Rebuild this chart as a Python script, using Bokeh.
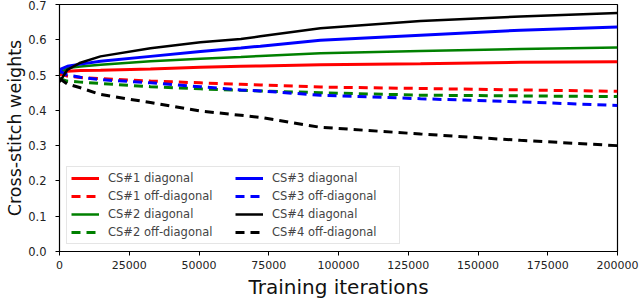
from bokeh.plotting import figure
from bokeh.embed import file_html
from bokeh.resources import INLINE
from bokeh.models import FixedTicker, NumeralTickFormatter, Legend, LegendItem, Range1d

x = [0, 2800, 7500, 14700, 32600, 50500, 65000, 72000, 93500, 129400, 165200, 200000]

cs1_diag = [0.500, 0.511, 0.513, 0.514, 0.517, 0.522, 0.525, 0.526, 0.529, 0.532, 0.536, 0.538]
cs1_off = [0.505, 0.497, 0.493, 0.490, 0.483, 0.478, 0.474, 0.472, 0.466, 0.462, 0.458, 0.454]
cs2_diag = [0.505, 0.520, 0.524, 0.529, 0.539, 0.546, 0.551, 0.554, 0.562, 0.568, 0.574, 0.578]
cs2_off = [0.490, 0.483, 0.480, 0.476, 0.467, 0.461, 0.457, 0.455, 0.450, 0.443, 0.441, 0.439]
cs3_diag = [0.515, 0.525, 0.531, 0.539, 0.553, 0.567, 0.577, 0.582, 0.599, 0.613, 0.627, 0.636]
cs3_off = [0.512, 0.500, 0.494, 0.487, 0.478, 0.467, 0.458, 0.455, 0.443, 0.433, 0.424, 0.414]
cs4_diag = [0.480, 0.515, 0.535, 0.553, 0.576, 0.593, 0.602, 0.610, 0.633, 0.653, 0.666, 0.676]
cs4_off = [0.490, 0.475, 0.464, 0.445, 0.422, 0.398, 0.386, 0.380, 0.352, 0.333, 0.315, 0.300]

x_ticks = [0, 25000, 50000, 75000, 100000, 125000, 150000, 175000, 200000]
y_ticks = [0.0, 0.1, 0.2, 0.3, 0.4, 0.5, 0.6, 0.7]

series = [
    ("CS#1 diagonal", cs1_diag, "#ff0000", "solid", 3),
    ("CS#1 off-diagonal", cs1_off, "#ff0000", "9 6", 3),
    ("CS#2 diagonal", cs2_diag, "#008000", "solid", 2.5),
    ("CS#2 off-diagonal", cs2_off, "#008000", "9 6", 3),
    ("CS#3 diagonal", cs3_diag, "#0000ff", "solid", 3),
    ("CS#3 off-diagonal", cs3_off, "#0000ff", "9 6", 3),
    ("CS#4 diagonal", cs4_diag, "#000000", "solid", 2.5),
    ("CS#4 off-diagonal", cs4_off, "#000000", "9 6", 3),
]

p = figure(width=640, height=301, output_backend="svg", toolbar_location=None,
           x_range=Range1d(0, 200000), y_range=Range1d(0.0, 0.7),
           min_border_left=59, min_border_right=23, min_border_top=4, min_border_bottom=47,
           margin=(0, 0, 0, 0))

items = []
for name, ys, col, dash, w in series:
    r = p.line(x, ys, line_color=col, line_dash=dash, line_width=w)
    items.append(LegendItem(label=name, renderers=[r]))

p.xgrid.visible = False
p.ygrid.visible = False
p.outline_line_color = "black"
p.outline_line_width = 1.2

p.xaxis.ticker = FixedTicker(ticks=x_ticks)
p.yaxis.ticker = FixedTicker(ticks=y_ticks)
p.xaxis.formatter = NumeralTickFormatter(format="0")
p.yaxis.formatter = NumeralTickFormatter(format="0.0")
for ax in (p.xaxis[0], p.yaxis[0]):
    ax.major_label_text_font = "DejaVu Sans"
    ax.major_label_text_font_size = "11px"
    ax.major_label_text_color = "#222222"
    ax.axis_label_text_font = "DejaVu Sans"
    ax.axis_label_text_font_style = "normal"
    ax.axis_label_text_color = "#111111"
    ax.minor_tick_line_color = None
    ax.major_tick_out = 4
    ax.major_tick_in = 0
    ax.axis_line_color = "black"
    ax.major_tick_line_color = "black"
p.yaxis.major_label_text_font_size = "11.5px"
p.yaxis.major_label_standoff = 9
p.xaxis.axis_label = "Training iterations"
p.yaxis.axis_label = "Cross-stitch weights"
p.xaxis.axis_label_text_font_size = "20px"
p.yaxis.axis_label_text_font_size = "17.5px"
p.xaxis.axis_label_standoff = 3
p.yaxis.axis_label_standoff = 0

legend = Legend(items=items, location=(7, 7), orientation="vertical", nrows=4,
                label_text_font="DejaVu Sans", label_text_font_size="11.5px",
                label_height=14, glyph_height=14, glyph_width=28, label_width=123,
                spacing=4, padding=4, margin=0, label_standoff=9,
                border_line_color="#cccccc", background_fill_alpha=0.8)
p.add_layout(legend, "center")

open("out.html", "w").write(file_html(p, INLINE))
